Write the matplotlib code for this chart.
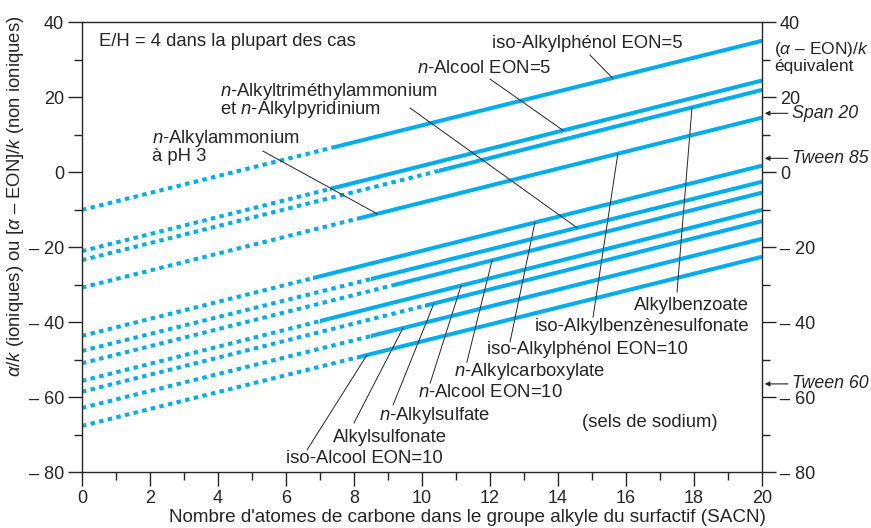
import numpy as np
import matplotlib.pyplot as plt
from matplotlib.patches import Rectangle
from matplotlib.ticker import MultipleLocator, FuncFormatter

plt.rcParams['font.family'] = ['Liberation Sans', 'DejaVu Sans']
plt.rcParams['mathtext.fontset'] = 'custom'
plt.rcParams['mathtext.rm'] = 'Liberation Sans'
plt.rcParams['mathtext.it'] = 'Liberation Sans:italic'

# droites SACN : valeur a SACN=0, valeur a SACN=20, debut de la partie mesuree (trait plein)
y_at_0 = [-10.1, -21.1, -23.5, -30.8, -43.7, -47.7, -51.0, -55.7, -58.6, -62.9, -67.7]
y_at_20 = [35.0, 24.4, 21.9, 14.5, 1.7, -2.6, -5.5, -10.1, -13.1, -17.8, -22.6]
solid_from = [7.4, 7.3, 10.5, 8.1, 6.8, 8.5, 9.2, 7.0, 10.1, 8.5, 8.1]

# etiquettes : texte, position, alignement, droite visee, SACN du point vise, depart du trait
labels = [
    ('iso-Alkylphénol EON=5', 12.06, 34.4, 'left', 0, 15.6, (14.94, 31.2)),
    ('$n$-Alcool EON=5', 9.85, 27.5, 'left', 1, 14.15, (12.0, 24.8)),
    ('$n$-Alkyltriméthylammonium\net $n$-Alkylpyridinium', 4.06, 19.1, 'left', 5, 14.56, (9.65, 17.07)),
    ('$n$-Alkylammonium\nà pH 3', 2.06, 6.8, 'left', 3, 8.68, (5.32, 5.6)),
    ('Alkylbenzoate', 19.62, -35.5, 'right', 2, 17.94, (17.5, -32.0)),
    ('iso-Alkylbenzènesulfonate', 19.62, -41.3, 'right', 3, 15.76, (15.03, -38.7)),
    ('iso-Alkylphénol EON=10', 11.91, -47.2, 'left', 4, 13.32, (12.59, -45.3)),
    ('$n$-Alkylcarboxylate', 10.94, -53.3, 'left', 6, 12.06, (11.32, -50.7)),
    ('$n$-Alcool EON=10', 9.88, -58.9, 'left', 7, 11.15, (10.24, -56.3)),
    ('$n$-Alkylsulfate', 8.74, -64.8, 'left', 8, 10.35, (9.15, -62.1)),
    ('Alkylsulfonate', 7.38, -70.7, 'left', 9, 9.44, (8.0, -66.9)),
    ('iso-Alcool EON=10', 6.0, -76.3, 'left', 10, 8.38, (6.62, -74.1)),
]

# references non ioniques sur l'axe de droite
ref_names = ['Span 20', 'Tween 85', 'Tween 60']
ref_values = [15.65, 3.65, -56.5]

blue = '#00AEEF'
dark = '#262626'
fs = 13.3
fs_tick = 13

fig = plt.figure(figsize=(8.71, 5.28), dpi=100)
fig.subplots_adjust(left=0.0941, right=0.8749, bottom=0.106, top=0.9583)
ax = fig.add_subplot(111)

for y0, y20, s in zip(y_at_0, y_at_20, solid_from):
    dotted, = ax.plot([0, 20], [y0, y20], color=blue, lw=2.9,
                      ls=(0, (1.1, 1.1)), dash_capstyle='butt')
    dotted.set_clip_path(Rectangle((0, -100), s, 200, transform=ax.transData))
    solid, = ax.plot([0, 20], [y0, y20], color=blue, lw=2.9, solid_capstyle='butt')
    solid.set_clip_path(Rectangle((s, -100), 20 - s, 200, transform=ax.transData))

for text, tx, ty, ha, idx, xe, (xs, ys) in labels:
    ax.text(tx, ty, text, ha=ha, va='center', fontsize=fs, color=dark, linespacing=0.85)
    ye = np.interp(xe, [0, 20], [y_at_0[idx], y_at_20[idx]])
    ax.plot([xs, xe], [ys, ye], color=dark, lw=0.7)

ax.text(0.5, 34.7, 'E/H = 4 dans la plupart des cas', ha='left', va='center',
        fontsize=fs, color=dark)
ax.text(14.7, -66.7, '(sels de sodium)', ha='left', va='center', fontsize=fs, color=dark)

for name, v in zip(ref_names, ref_values):
    ax.annotate(name, xy=(20, v), xytext=(30, 0), textcoords='offset pixels',
                ha='left', va='center', fontsize=12.8, style='italic', color=dark,
                annotation_clip=False,
                arrowprops=dict(arrowstyle='-|>', lw=0.8, color=dark,
                                shrinkA=1, shrinkB=2, mutation_scale=7))

ax.set_xlim(0, 20)
ax.set_ylim(-80, 40)
ax.xaxis.set_major_locator(MultipleLocator(2))
ax.xaxis.set_minor_locator(MultipleLocator(1))
ax.yaxis.set_major_locator(MultipleLocator(20))
ax.yaxis.set_minor_locator(MultipleLocator(10))
ax.yaxis.set_major_formatter(FuncFormatter(lambda v, _: f'– {abs(int(v))}' if v < 0 else f'{int(v)}'))
ax.tick_params(axis='y', which='both', right=True, labelright=True)
ax.tick_params(which='both', direction='out', color=dark, width=1, labelsize=fs_tick, labelcolor=dark)
ax.tick_params(which='major', length=10, pad=3)
ax.tick_params(which='minor', length=6)
for sp in ax.spines.values():
    sp.set_color(dark)
    sp.set_linewidth(1)

fig.text(774 / 871, 1 - 57 / 528, '($\\alpha$ – EON)/$k$\néquivalent', ha='left', va='center',
         fontsize=12.5, color=dark, linespacing=1.0)
fig.text(467 / 871, 1 - 517 / 528,
         "Nombre d'atomes de carbone dans le groupe alkyle du surfactif (SACN)",
         ha='center', va='center', fontsize=13.6, color=dark)
fig.text(16 / 871, 1 - 196 / 528,
         r'$\alpha$/$k$ (ioniques) ou [$\alpha$ – EON]/$k$ (non ioniques)',
         ha='center', va='center', rotation=90, fontsize=fs, color=dark)

fig.savefig('out.png', dpi=100)
